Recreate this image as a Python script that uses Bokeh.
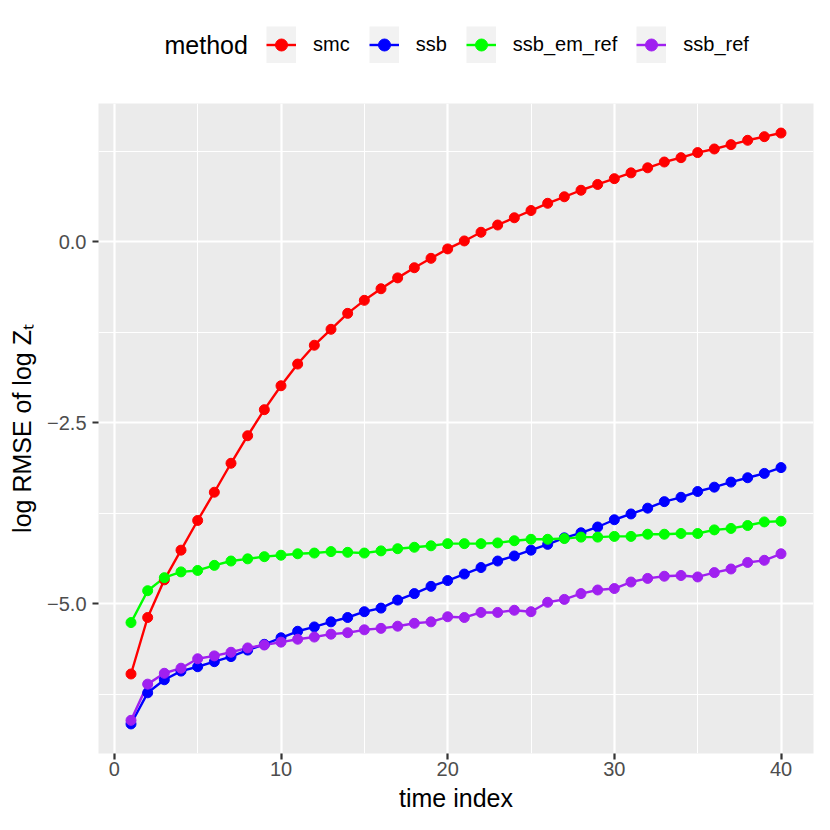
from bokeh.plotting import figure
from bokeh.layouts import column
from bokeh.models import (ColumnDataSource, Range1d, FixedTicker,
                          CustomJSTickFormatter, Legend, LegendItem, Label)
from bokeh.embed import file_html
from bokeh.resources import INLINE

FONT = "Liberation Sans"

# ---- data -------------------------------------------------------------
time_index = list(range(1, 41))
methods = ["smc", "ssb", "ssb_em_ref", "ssb_ref"]
colors = ["#FF0000", "#0000FF", "#00FF00", "#A020F0"]

smc = [-5.97, -5.19, -4.67, -4.26, -3.85, -3.46, -3.06, -2.68, -2.32, -1.99,
       -1.69, -1.43, -1.21, -0.99, -0.81, -0.65, -0.50, -0.36, -0.23, -0.10,
       0.01, 0.13, 0.23, 0.33, 0.43, 0.53, 0.62, 0.71, 0.79, 0.87,
       0.95, 1.02, 1.10, 1.16, 1.23, 1.28, 1.34, 1.40, 1.45, 1.50]
ssb = [-6.66, -6.23, -6.05, -5.93, -5.87, -5.80, -5.73, -5.64, -5.56, -5.47,
       -5.38, -5.32, -5.25, -5.19, -5.11, -5.06, -4.95, -4.86, -4.76, -4.68,
       -4.59, -4.50, -4.41, -4.34, -4.26, -4.18, -4.09, -4.02, -3.94, -3.84,
       -3.76, -3.68, -3.59, -3.53, -3.45, -3.39, -3.32, -3.26, -3.20, -3.12]
ssb_em_ref = [-5.26, -4.82, -4.64, -4.56, -4.54, -4.47, -4.41, -4.38, -4.35, -4.33,
              -4.31, -4.30, -4.28, -4.29, -4.30, -4.27, -4.24, -4.22, -4.20, -4.17,
              -4.17, -4.17, -4.16, -4.13, -4.11, -4.11, -4.10, -4.08, -4.08, -4.07,
              -4.07, -4.04, -4.04, -4.03, -4.03, -3.98, -3.96, -3.92, -3.87, -3.86]
ssb_ref = [-6.61, -6.11, -5.96, -5.89, -5.76, -5.72, -5.67, -5.61, -5.57, -5.53,
           -5.49, -5.46, -5.42, -5.40, -5.36, -5.34, -5.31, -5.27, -5.25, -5.18,
           -5.19, -5.12, -5.12, -5.09, -5.11, -4.98, -4.94, -4.86, -4.81, -4.79,
           -4.70, -4.65, -4.62, -4.61, -4.63, -4.57, -4.52, -4.43, -4.40, -4.31]

x_ticks = [0, 10, 20, 30, 40]
x_minor = [5, 15, 25, 35]
y_ticks = [-5.0, -2.5, 0.0]
y_minor = [-6.25, -3.75, -1.25, 1.25]

legend_title = "method"
x_title = "time index"
y_title = "log RMSE of log Z\u209c"

series = {"smc": smc, "ssb": ssb, "ssb_em_ref": ssb_em_ref, "ssb_ref": ssb_ref}

# ---- layout constants (pixels) ----------------------------------------
W, H = 814, 814
LEG_H = 95                       # height of the legend strip
B_LEFT, B_RIGHT = 98, 1
B_TOP, B_BOTTOM = 103 - LEG_H, 60
KEY_H = 37
LEG_KEY_LEFT = 266               # left edge of first legend key
LEG_KEY_TOP = 26                 # top edge of legend keys
TITLE_LEFT = 164                 # left edge of the legend title

# ---- main plot --------------------------------------------------------
all_vals = [v for s in series.values() for v in s]
ymin, ymax = min(all_vals), max(all_vals)
xmin, xmax = min(time_index), max(time_index)
xpad = (xmax - xmin) * 0.05
ypad = (ymax - ymin) * 0.05

p = figure(width=W, height=H - LEG_H, output_backend="svg",
           toolbar_location=None, title=None,
           x_range=Range1d(xmin - xpad, xmax + xpad),
           y_range=Range1d(ymin - ypad, ymax + ypad),
           min_border_left=B_LEFT, min_border_right=B_RIGHT,
           min_border_top=B_TOP, min_border_bottom=B_BOTTOM)
p.background_fill_color = "#EBEBEB"
p.border_fill_color = "white"
p.outline_line_color = None

xticker = FixedTicker(ticks=x_ticks, minor_ticks=x_minor)
yticker = FixedTicker(ticks=y_ticks, minor_ticks=y_minor)
p.xaxis.ticker = xticker
p.yaxis.ticker = yticker
p.xgrid.ticker = xticker
p.ygrid.ticker = yticker

p.xaxis.formatter = CustomJSTickFormatter(code="return tick.toFixed(0);")
p.yaxis.formatter = CustomJSTickFormatter(
    code="return tick.toFixed(1).replace('-', '\u2212');")

for ax in (p.xaxis[0], p.yaxis[0]):
    ax.axis_line_color = None
    ax.major_tick_line_color = "#333333"
    ax.major_tick_line_width = 2.2
    ax.major_tick_out = 6
    ax.major_tick_in = 0
    ax.minor_tick_line_color = None
    ax.major_label_text_font = FONT
    ax.major_label_text_font_size = "20px"
    ax.major_label_text_color = "#4D4D4D"
    ax.axis_label_text_font = FONT
    ax.axis_label_text_font_size = "25px"
    ax.axis_label_text_font_style = "normal"
    ax.axis_label_text_color = "black"

p.xaxis.axis_label = x_title
p.yaxis.axis_label = y_title
p.xaxis.major_label_standoff = 2
p.yaxis.major_label_standoff = 6
p.xaxis.axis_label_standoff = 5
p.yaxis.axis_label_standoff = 8

p.grid.grid_line_color = "white"
p.grid.grid_line_width = 2.2
p.grid.minor_grid_line_color = "white"
p.grid.minor_grid_line_width = 1.1

sources = [ColumnDataSource(dict(t=time_index, v=series[m])) for m in methods]
for s, c in zip(sources, colors):
    p.line("t", "v", source=s, line_color=c, line_width=2.4)
for s, c in zip(sources, colors):
    p.scatter("t", "v", source=s, size=10, fill_color=c, line_color=c,
              line_width=1)

# ---- legend strip above the plot ---------------------------------------
lf_w = W - B_LEFT - B_RIGHT
lf = figure(width=W, height=LEG_H, output_backend="svg", toolbar_location=None,
            title=None, x_range=Range1d(0, lf_w), y_range=Range1d(0, LEG_H),
            min_border_left=B_LEFT, min_border_right=B_RIGHT,
            min_border_top=0, min_border_bottom=0,
            x_axis_location=None, y_axis_location=None)
lf.outline_line_color = None
lf.grid.visible = False
lf.background_fill_color = "white"
lf.border_fill_color = "white"

# legend key renderers (hidden in the strip, drawn only inside the legend)
key_bg = lf.line("t", "v", source=sources[0], line_color="#F2F2F2",
                 line_width=KEY_H, visible=False)
items = []
for m, s, c in zip(methods, sources, colors):
    kl = lf.line("t", "v", source=s, line_color=c, line_width=2.4, visible=False)
    kp = lf.scatter("t", "v", source=s, fill_color=c, line_color=c,
                    line_width=1, visible=False)
    items.append(LegendItem(label=m, renderers=[key_bg, kl, kp]))

legend = Legend(items=items, orientation="horizontal",
                location=(LEG_KEY_LEFT - B_LEFT, LEG_H - LEG_KEY_TOP - KEY_H))
legend.glyph_width = 30
legend.glyph_height = KEY_H
legend.label_height = KEY_H
legend.label_standoff = 17
legend.spacing = 19
legend.padding = 0
legend.margin = 0
legend.border_line_color = None
legend.background_fill_alpha = 0
legend.label_text_font = FONT
legend.label_text_font_size = "20px"
legend.label_text_color = "black"
lf.add_layout(legend, "center")

lf.add_layout(Label(x=TITLE_LEFT - B_LEFT, y=LEG_H - (LEG_KEY_TOP + KEY_H / 2),
                    text=legend_title, text_font=FONT, text_font_size="25px",
                    text_color="black", text_baseline="middle",
                    text_align="left"))

layout = column(lf, p, spacing=0)
open("out.html", "w").write(file_html(layout, INLINE))
